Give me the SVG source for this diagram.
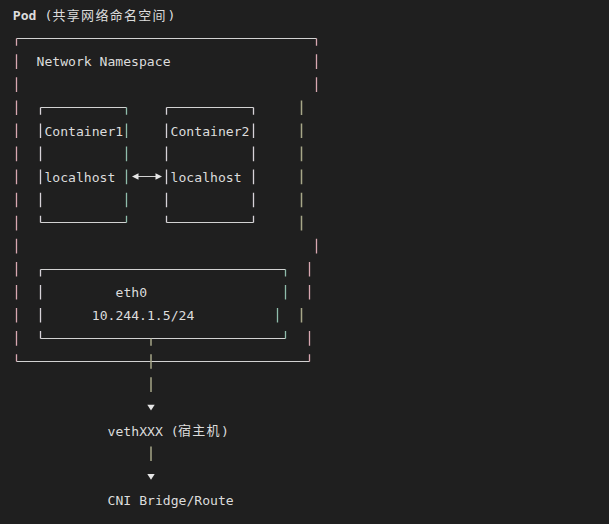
<svg xmlns="http://www.w3.org/2000/svg" width="609" height="524" viewBox="0 0 609 524">
<style>
.t{font-family:"DejaVu Sans Mono","Liberation Mono",monospace;font-size:13.1px;fill:#dcdcdc}
.c{font-family:"Noto Sans CJK SC","Noto Sans CJK JP",sans-serif;font-size:13px;fill:#dcdcdc}
.h{stroke:#d2d2d2;stroke-width:1;fill:none}
.pk{stroke:#d8a7b1;stroke-width:1.3;fill:none}
.ol{stroke:#a7a788;stroke-width:1.5;fill:none}
.tl{stroke:#8fbcab;stroke-width:1.3;fill:none}
.wh{stroke:#d6d2d8;stroke-width:1.3;fill:none}
.ah{fill:#e6e6e6}
</style>
<rect width="609" height="524" fill="#1f1f1f"/>
<g id="pod-title">
<text class="t" x="12.8" y="20" font-weight="bold">Pod</text>
<text class="t" x="44.4" y="20">(</text>
<text class="c" x="52.5 66.8 81.1 95.4 109.7 124 138.3 152.6" y="19.5">共享网络命名空间</text>
<text class="t" x="167.5" y="20">)</text>
</g>
<g id="network-namespace">
<path class="h" d="M16.5 38.5H316.5M16.5 361.5H309.5"/>
<path class="pk" d="M16.5 38.5V45.8M16.5 54.3V68.9M16.5 77.3V91.9M16.5 100.4V115M16.5 123.5V138.1M16.5 146.6V161.2M16.5 169.6V184.2M16.5 192.7V207.3M16.5 215.8V230.4M16.5 238.8V253.4M16.5 261.9V276.5M16.5 285V299.6M16.5 308V322.6M16.5 331.1V345.7M16.5 354.2V361.5"/>
<path class="pk" d="M316.5 38.5V45.8M316.5 54.3V68.9M316.5 77.3V91.9M316.5 238.8V253.4M309.5 261.9V276.5M309.5 285V299.6M309.5 331.1V345.7M309.5 354.2V361.5"/>
<path class="ol" d="M301.5 100.4V115M301.5 123.5V138.1M301.5 146.6V161.2M301.5 169.6V184.2M301.5 192.7V207.3M301.5 215.8V230.4M301.5 308V322.6"/>
<text class="t" x="36.5" y="66.4">Network Namespace</text>
</g>
<g id="container1">
<path class="h" d="M40.5 107.5H126.5M40.5 222.5H126.5"/>
<path class="wh" d="M40.5 107.5V114.8M40.5 123.5V138.1M40.5 146.6V161.2M40.5 169.6V184.2M40.5 192.7V207.3M40.5 215.8V222.5"/>
<path class="tl" d="M126.5 107.5V114.8M126.5 123.5V138.1M126.5 146.6V161.2M126.5 169.6V184.2M126.5 192.7V207.3M126.5 215.8V222.5"/>
<text class="t" x="44.4" y="135.6">Container1</text>
<text class="t" x="44.4" y="181.7">localhost</text>
</g>
<g id="container2">
<path class="h" d="M166.5 107.5H253.5M166.5 222.5H253.5"/>
<path class="wh" d="M166.5 107.5V114.8M166.5 123.5V138.1M166.5 146.6V161.2M166.5 169.6V184.2M166.5 192.7V207.3M166.5 215.8V222.5"/>
<path class="wh" d="M253.5 107.5V114.8M253.5 123.5V138.1M253.5 146.6V161.2M253.5 169.6V184.2M253.5 192.7V207.3M253.5 215.8V222.5"/>
<text class="t" x="170.6" y="135.6">Container2</text>
<text class="t" x="170.6" y="181.7">localhost</text>
</g>
<g id="eth0">
<path class="h" d="M40.5 269.5H285.5M40.5 338.5H285.5"/>
<path class="wh" d="M40.5 269.5V276.5M40.5 285V299.6M40.5 308V322.6M40.5 331.1V338.5"/>
<path class="tl" d="M285.5 269.5V276.5M285.5 285V299.6M277.5 308V322.6M285.5 331.1V338.5"/>
<text class="t" x="115.5" y="297.1">eth0</text>
<text class="t" x="91.8" y="320.2">10.244.1.5/24</text>
</g>
<g id="veth">
<text class="t" x="107.6" y="435.5">vethXXX (</text>
<text class="c" x="178 192.3 206.6" y="435">宿主机</text>
<text class="t" x="220.9" y="435.5">)</text>
</g>
<g id="cni">
<text class="t" x="107.6" y="504.7">CNI Bridge/Route</text>
</g>
<g id="connectors">
<path class="h" d="M136 176.5H158"/>
<polygon class="ah" points="132,176.5 138.5,173.3 138.5,179.7"/>
<polygon class="ah" points="162,176.5 155.5,173.3 155.5,179.7"/>
<path class="ol" d="M151 338.5V345.7M151 354.2V368.8M151 377.3V391.9M151 446.5V461.1"/>
<polygon class="ah" points="147.3,404.8 154.7,404.8 151,410.6"/>
<polygon class="ah" points="147.3,474 154.7,474 151,479.8"/>
</g>
</svg>
